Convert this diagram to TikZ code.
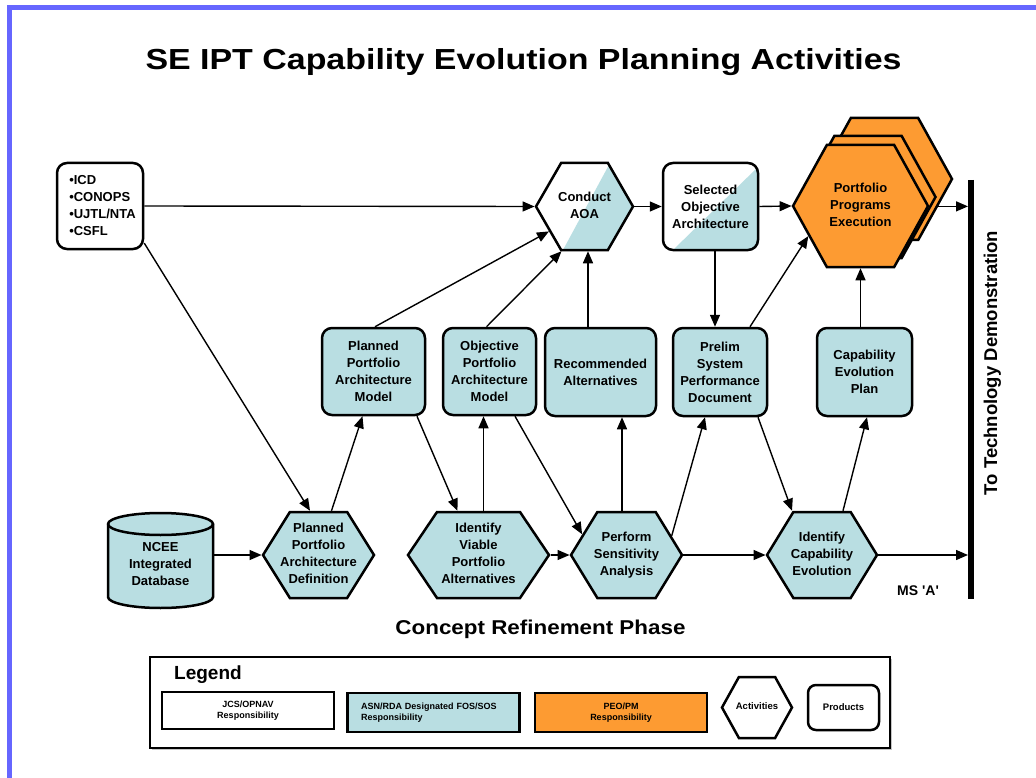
\documentclass[tikz,border=0pt]{standalone}
\usepackage{graphicx}
\usepackage{fontspec}
\setmainfont{Liberation Sans}
\usetikzlibrary{arrows.meta,shapes.symbols,shadows,calc}
\definecolor{lb}{RGB}{185,222,226}
\definecolor{orng}{RGB}{253,155,50}
\definecolor{frameblue}{RGB}{102,102,255}
\newcommand{\hx}[1]{\makebox[0pt]{\begin{tabular}{@{}c@{}}#1\end{tabular}}}
\begin{document}
\begin{tikzpicture}[x=1pt,y=-1pt,
  nodefont/.style={font=\fontsize{13}{17}\selectfont\bfseries},
  prod/.style={draw, line width=2.5pt, rounded corners=10pt, fill=lb, align=center, nodefont, inner sep=1pt},
  act/.style={draw, line width=2.5pt, shape=signal, signal to=east and west, signal from=nowhere,
              signal pointer angle=118, fill=lb, nodefont, inner sep=0pt},
  arr/.style={line width=1.4pt, -{Triangle[length=12pt,width=10pt]}},
  legbox/.style={draw, line width=2.2pt, minimum width=172pt, minimum height=39pt,
              font=\fontsize{9}{10.5}\selectfont\bfseries, align=center, inner sep=0pt},
]
\useasboundingbox (0,0) rectangle (1036,778);
\fill[white] (0,0) rectangle (1036,778);
\draw[frameblue, line width=5pt, line join=miter] (9.5,778) -- (9.5,7.5) -- (1036,7.5);

% title
\node[font=\fontsize{29}{34}\selectfont\bfseries, anchor=base] (title) at (523.5,70)
  {\scalebox{1.17}[1]{SE IPT Capability Evolution Planning Activities}};

% row 1
\node[prod, fill=white, minimum width=86pt, minimum height=86pt, align=left] (inbox) at (100,206)
  {\hspace*{5pt}•ICD\\\hspace*{5pt}•CONOPS\\\hspace*{5pt}•UJTL/NTA\\\hspace*{5pt}•CSFL};
\node[act, fill=white, minimum width=97pt, minimum height=87pt, signal pointer angle=120,
  path picture={\fill[lb, sharp corners] ([xshift=-21.5pt]path picture bounding box.south)
     -- ([xshift=25.5pt]path picture bounding box.north)
     -- (path picture bounding box.north east) -- (path picture bounding box.south east) -- cycle;}]
  (aoa) at (584.5,206.5) {\hx{Conduct\\AOA}};
\node[prod, fill=white, minimum width=95pt, minimum height=87pt,
  path picture={\fill[lb, sharp corners] ([xshift=-37.5pt]path picture bounding box.south)
     -- ([yshift=-4pt]path picture bounding box.north east)
     -- (path picture bounding box.south east) -- cycle;}]
  (soa) at (710.5,206.5) {Selected\\Objective\\Architecture};
\node[act, fill=orng, minimum width=135pt, minimum height=122pt, signal pointer angle=122] (port3) at (884.5,179) {};
\node[act, fill=orng, minimum width=135pt, minimum height=122pt, signal pointer angle=122] (port2) at (868,197) {};
\node[act, fill=orng, minimum width=135pt, minimum height=122pt, signal pointer angle=122] (port) at (860.5,206)
  {\hx{Portfolio\\Programs\\Execution}};

% row 2
\node[prod, minimum width=103pt, minimum height=87pt] (ppam) at (373.5,371.5) {Planned\\Portfolio\\Architecture\\Model};
\node[prod, minimum width=93pt, minimum height=87pt] (opam) at (489.5,371.5) {Objective\\Portfolio\\Architecture\\Model};
\node[prod, minimum width=111pt, minimum height=88pt] (recalt) at (600.5,372) {Recommended\\Alternatives};
\node[prod, minimum width=94pt, minimum height=88pt] (pspd) at (720,372) {Prelim\\System\\Performance\\Document};
\node[prod, minimum width=95pt, minimum height=88pt] (cep) at (864.5,372) {Capability\\Evolution\\Plan};

% row 3
\filldraw[fill=lb, line width=2.5pt] (108,524) -- (108,597)
  arc[start angle=180, end angle=360, x radius=52.5pt, y radius=11pt] -- (213,524)
  arc[start angle=0, end angle=180, x radius=52.5pt, y radius=11pt] -- cycle;
\draw[line width=2.5pt] (108,524) arc[start angle=180, end angle=360, x radius=52.5pt, y radius=11pt];
\node[nodefont, align=center, minimum width=105pt, minimum height=95pt, inner sep=0pt] (ncee) at (160.5,564)
  {NCEE\\Integrated\\Database};
\node[act, minimum width=111pt, minimum height=86pt, signal pointer angle=116] (ppad) at (318.5,555)
  {\hx{Planned\\Portfolio\\Architecture\\Definition}};
\node[act, minimum width=141pt, minimum height=86pt, signal pointer angle=112] (ivpa) at (478.5,555)
  {\hx{Identify\\Viable\\Portfolio\\Alternatives}};
\node[act, minimum width=111pt, minimum height=86pt, signal pointer angle=117] (psa) at (626.5,555)
  {\hx{Perform\\Sensitivity\\Analysis}};
\node[act, minimum width=110pt, minimum height=86pt, signal pointer angle=117] (ice) at (822,555)
  {\hx{Identify\\Capability\\Evolution}};

% bar
\coordinate (bartop) at (971,180);
\coordinate (barbot) at (971,599);
\coordinate (barL) at (968,0);
\draw[line width=6pt] (bartop) -- (barbot);
\node[rotate=90, font=\fontsize{18.5}{22}\selectfont\bfseries, anchor=base] (todemo) at (997,363)
  {To Technology Demonstration};
\node[font=\fontsize{14}{16}\selectfont\bfseries, anchor=base west, inner sep=0pt] (ms) at (897,595)
  {MS \textquotesingle A\textquotesingle};

% connectors
\draw[arr] (inbox.east) -- (aoa.west);
\draw[arr] (inbox.-40) -- ([xshift=-8.5pt]ppad.north);
\draw[arr] (ncee.east |- ppad.west) -- (ppad.west);
\draw[arr] ([xshift=13pt]ppad.north) -- ([xshift=-11pt]ppam.south);
\draw[arr] ([xshift=1.5pt]ppam.north) -- (aoa.215);
\draw[arr] ([xshift=43.5pt]ppam.south) -- ([xshift=-21pt]ivpa.north);
\draw[arr] ([xshift=5pt]ivpa.north) -- ([xshift=-6pt]opam.south);
\draw[arr] ([xshift=-3pt]opam.north) -- ([xshift=-23pt]aoa.south);
\draw[arr] ([xshift=25.5pt]opam.south) -- (psa.155);
\draw[arr] (ivpa.east) -- (psa.west);
\draw[arr] ([xshift=-4.5pt]psa.north) -- ([xshift=21.5pt]recalt.south);
\draw[arr] ([xshift=-12.5pt]recalt.north) -- ([xshift=3.5pt]aoa.south);
\draw[arr] (psa.23) -- ([xshift=-15pt]pspd.south);
\draw[arr] (psa.east) -- (ice.west);
\draw[arr] ([xshift=4.5pt]soa.south) -- ([xshift=-5pt]pspd.north);
\draw[arr] (aoa.east) -- (soa.west);
\draw[arr] (soa.east) -- (port.west);
\draw[arr] ([xshift=30pt]pspd.north) -- (port.210);
\draw[arr] ([xshift=38pt]pspd.south) -- ([xshift=-30pt]ice.north);
\draw[arr] ([xshift=21pt]ice.north) -- ([xshift=2.5pt]cep.south);
\draw[arr] ([xshift=-4pt]cep.north) -- (port.south);
\draw[arr] (port3.-27) -- (port3.-27 -| barL);
\draw[arr] (ice.east) -- (ice.east -| barL);

% phase label
\node[font=\fontsize{20}{24}\selectfont\bfseries, anchor=base] (phase) at (540.5,634)
  {\scalebox{1.12}[1]{Concept Refinement Phase}};

% legend
\node[draw, line width=1.5pt, fill=white, minimum width=740pt, minimum height=91pt,
  drop shadow={shadow xshift=2pt, shadow yshift=-2pt, fill=black!45}] (legend) at (520,702.5) {};
\node[font=\fontsize{19}{22}\selectfont\bfseries, anchor=base west, inner sep=0pt] (legtitle) at (174,679) {Legend};
\node[legbox, line width=1.5pt, fill=white, minimum height=37pt] (lg1) at (248,710.5) {JCS/OPNAV\\Responsibility};
\node[legbox, fill=lb, align=left, text width=145pt] (lg2) at (433.5,712.5) {ASN/RDA Designated FOS/SOS\\Responsibility};
\node[legbox, fill=orng] (lg3) at (621,712.5) {PEO/PM\\Responsibility};
\node[act, fill=white, minimum width=70pt, minimum height=61pt, signal pointer angle=122,
  font=\fontsize{9.5}{11}\selectfont\bfseries] (lg4) at (757,707.5) {\hx{Activities}};
\node[prod, fill=white, minimum width=71pt, minimum height=45pt, rounded corners=8pt,
  font=\fontsize{9.5}{11}\selectfont\bfseries] (lg5) at (843.5,707.5) {Products};
\end{tikzpicture}
\end{document}
